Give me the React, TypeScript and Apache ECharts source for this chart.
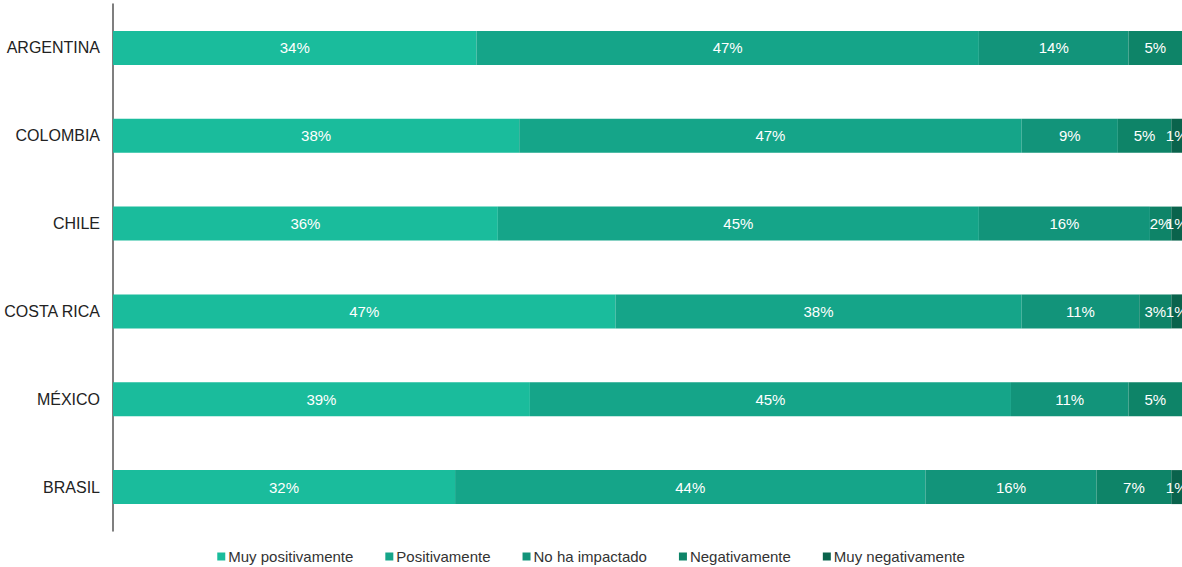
import React, { useEffect, useRef } from "react";
import * as echarts from "echarts";

const categories = ["ARGENTINA", "COLOMBIA", "CHILE", "COSTA RICA", "MÉXICO", "BRASIL"];
const seriesNames = ["Muy positivamente", "Positivamente", "No ha impactado", "Negativamente", "Muy negativamente"];
const muyPositivamente = [34, 38, 36, 47, 39, 32];
const positivamente = [47, 47, 45, 38, 45, 44];
const noHaImpactado = [14, 9, 16, 11, 11, 16];
const negativamente = [5, 5, 2, 3, 5, 7];
const muyNegativamente = [0, 1, 1, 1, 0, 1];
const colors = ["#1abc9c", "#15a589", "#12947a", "#0e8468", "#0a634c"];

export default function App() {
  const ref = useRef<HTMLDivElement>(null);
  useEffect(() => {
    if (!ref.current) return;
    const chart = echarts.init(ref.current, undefined, { renderer: "svg" });
    const all = [muyPositivamente, positivamente, noHaImpactado, negativamente, muyNegativamente];
    chart.setOption({
      animation: false,
      textStyle: { fontFamily: "Liberation Sans, Arial, sans-serif" },
      grid: { left: 113, right: 0, top: 4, bottom: 36 },
      legend: {
        top: 544,
        left: "center",
        icon: "rect",
        itemWidth: 8,
        itemHeight: 8,
        itemGap: 32,
        textStyle: { fontSize: 15, color: "#333", fontFamily: "Liberation Sans, Arial, sans-serif", padding: [0, 0, 0, -2] },
        data: seriesNames,
      },
      xAxis: {
        type: "value",
        min: 0,
        max: 100,
        show: false,
      },
      yAxis: {
        type: "category",
        data: categories,
        inverse: true,
        axisTick: { show: false },
        axisLine: { show: true, lineStyle: { color: "#555", width: 1.5 } },
        axisLabel: { color: "#222", fontSize: 16, margin: 13 },
      },
      series: seriesNames.map((name, i) => ({
        name,
        type: "bar",
        stack: "total",
        barWidth: 34,
        data: all[i],
        itemStyle: { color: colors[i] },
        label: {
          show: true,
          position: "inside",
          color: "#fff",
          fontSize: 15,
          formatter: (p: any) => (p.value > 0 ? p.value + "%" : ""),
        },
      })),
    });
    return () => chart.dispose();
  }, []);
  return (
    <div
      ref={ref}
      style={{ position: "fixed", left: 0, top: 0, width: 1182, height: 567, background: "#fff" }}
    />
  );
}
